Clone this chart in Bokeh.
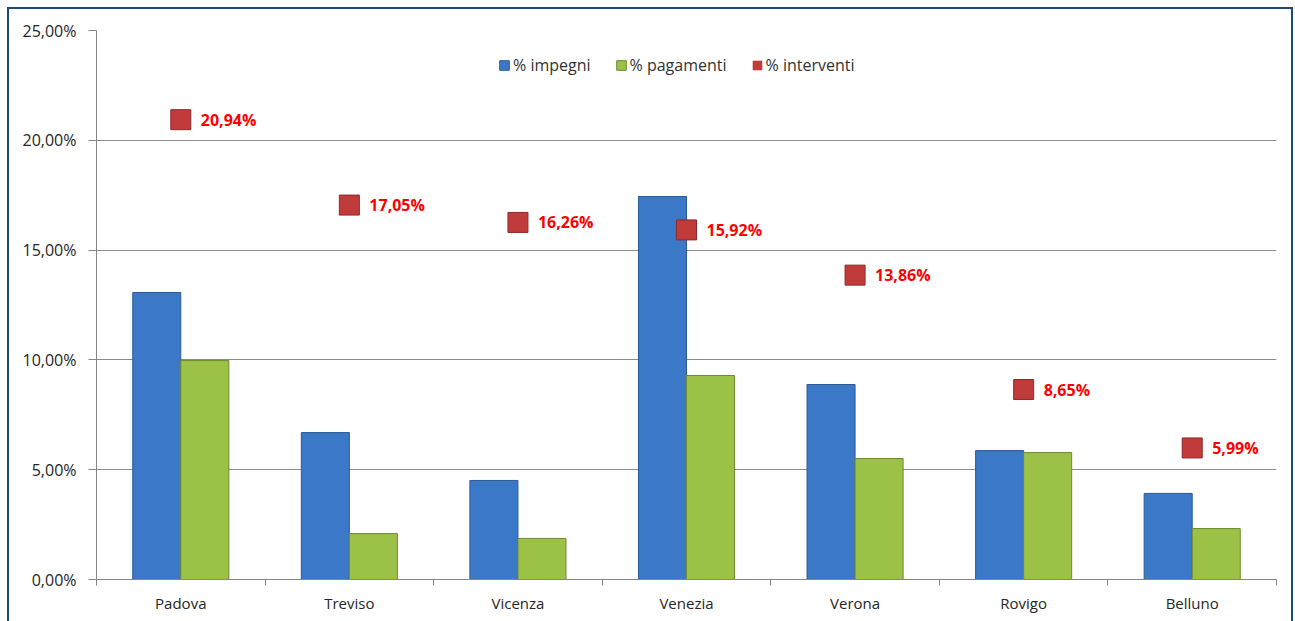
from bokeh.plotting import figure
from bokeh.models import ColumnDataSource, FixedTicker, Legend, LegendItem, LabelSet
from bokeh.transform import dodge
from bokeh.core.properties import value
from bokeh.embed import file_html
from bokeh.resources import INLINE

# ---- data ----
provinces = ["Padova", "Treviso", "Vicenza", "Venezia", "Verona", "Rovigo", "Belluno"]
impegni = [13.07, 6.69, 4.51, 17.44, 8.88, 5.87, 3.92]
pagamenti = [9.97, 2.09, 1.87, 9.29, 5.51, 5.78, 2.32]
interventi = [20.94, 17.05, 16.26, 15.92, 13.86, 8.65, 5.99]
y_ticks = [0, 5, 10, 15, 20, 25]

FONT = "Open Sans"

def pct(v):
    return f"{v:.2f}%".replace(".", ",")

xpos = [i + 0.5 for i in range(len(provinces))]
src = ColumnDataSource(dict(
    x=xpos, impegni=impegni, pagamenti=pagamenti, interventi=interventi,
    lab=[pct(v) for v in interventi],
))

p = figure(
    frame_width=1180, frame_height=549,
    min_border_left=87, min_border_right=15, min_border_top=21, min_border_bottom=46,
    x_range=(0, len(provinces)), y_range=(0, 25),
    output_backend="svg", toolbar_location=None,
    background_fill_color="white", border_fill_color="white",
)
p.styles = {"border": "2px solid #1F497D", "margin-left": "7px", "margin-top": "7px"}
p.outline_line_color = None

bw = 0.285
r_imp = p.vbar(x=dodge("x", -0.1425), top="impegni", width=bw, source=src,
               fill_color="#3B78C8", line_color="#2C5A95", line_width=1)
r_pag = p.vbar(x=dodge("x", 0.1425), top="pagamenti", width=bw, source=src,
               fill_color="#9BC246", line_color="#6E8A2E", line_width=1)
r_int = p.scatter(x="x", y="interventi", source=src, marker="square", size=20,
                  fill_color="#C23B3B", line_color="#8C2A2A", line_width=1)
# zero-height bars: invisible in the plot, give the legend a square swatch
r_int_leg = p.vbar(x="x", top="interventi", bottom="interventi", width=0, source=src,
                   fill_color="#C23B3B", line_color=None)

labels = LabelSet(x="x", y="interventi", text="lab", source=src,
                  x_offset=20, y_offset=0, text_baseline="middle", text_align="left",
                  text_color="#FF0000", text_font=value(FONT), text_font_size="16px",
                  text_font_style="bold")
p.add_layout(labels)

legend = Legend(items=[
    LegendItem(label="% impegni", renderers=[r_imp]),
    LegendItem(label="% pagamenti", renderers=[r_pag]),
    LegendItem(label="% interventi", renderers=[r_int_leg]),
], orientation="horizontal", location=(402, 503))
legend.glyph_width = 12
legend.glyph_height = 12
legend.label_standoff = 3
legend.spacing = 24
legend.padding = 0
legend.margin = 0
legend.border_line_color = None
legend.background_fill_alpha = 0
legend.label_text_font = FONT
legend.label_text_font_size = "16px"
legend.label_text_color = "#333333"
p.add_layout(legend, "center")

# y axis
p.yaxis.ticker = FixedTicker(ticks=y_ticks)
p.yaxis.major_label_overrides = {t: pct(t) for t in y_ticks}
p.yaxis.major_tick_out = 8
p.yaxis.major_tick_in = 0
p.yaxis.minor_tick_line_color = None
p.yaxis.axis_line_color = "#868686"
p.yaxis.major_tick_line_color = "#868686"
p.yaxis.major_label_standoff = 12
p.yaxis.major_label_text_font = FONT
p.yaxis.major_label_text_font_size = "16px"
p.yaxis.major_label_text_color = "#262626"

# x axis: labels at centers, ticks at boundaries (minor)
p.xaxis.ticker = FixedTicker(ticks=xpos, minor_ticks=list(range(len(provinces) + 1)))
p.xaxis.major_label_overrides = {x: n for x, n in zip(xpos, provinces)}
p.xaxis.major_tick_line_color = None
p.xaxis.major_tick_out = 0
p.xaxis.major_tick_in = 0
p.xaxis.minor_tick_out = 6
p.xaxis.minor_tick_in = 0
p.xaxis.minor_tick_line_color = "#868686"
p.xaxis.axis_line_color = "#868686"
p.xaxis.major_label_standoff = 7
p.xaxis.major_label_text_font = FONT
p.xaxis.major_label_text_font_size = "15px"
p.xaxis.major_label_text_color = "#262626"

p.xgrid.visible = False
p.ygrid.ticker = FixedTicker(ticks=y_ticks)
p.ygrid.grid_line_color = "#8C8C8C"
p.ygrid.grid_line_width = 1

open("out.html", "w").write(file_html(p, INLINE))
